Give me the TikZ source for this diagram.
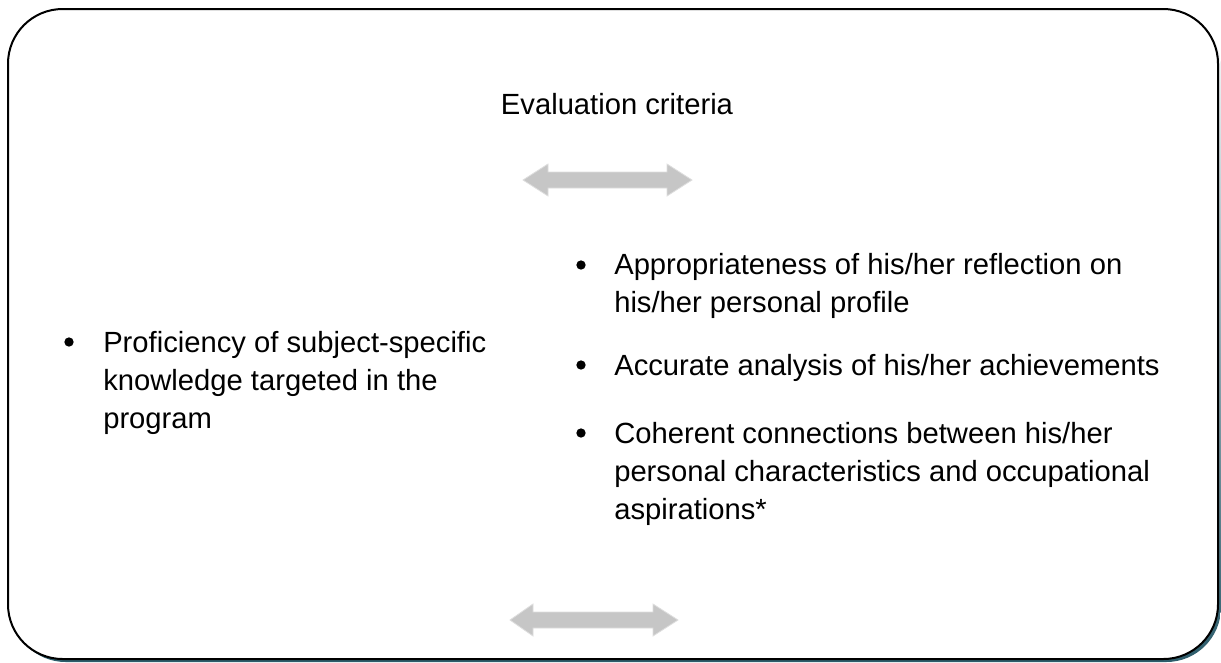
\documentclass[tikz,border=0pt]{standalone}
\usepackage{fontspec}
\setmainfont{Liberation Sans}
\usetikzlibrary{positioning}

\definecolor{shadowteal}{RGB}{44,92,107}
\definecolor{arrowgray}{RGB}{198,198,198}
\definecolor{arrowedge}{RGB}{222,222,222}

\tikzset{
  crit/.style={anchor=base west, align=left, inner sep=0pt, font=\fontsize{21.9}{28.5}\selectfont},
  dot/.style={circle, fill=black, inner sep=0pt, minimum size=7pt},
  twoway/.style={fill=arrowgray, draw=arrowedge, line width=0.6pt}
}

\begin{document}
\begin{tikzpicture}[x=0.75pt, y=-0.75pt]
\useasboundingbox (0,0) rectangle (1221,662);

% frame and its shadow
\shade[top color=white, middle color=white, bottom color=shadowteal, rounded corners=41pt] (11,12) rectangle (1221,662);
\filldraw[fill=white, draw=black, line width=1.5pt, rounded corners=41pt] (8,9) rectangle (1218,659);

\node[crit, anchor=base] (title) at (617,114) {Evaluation criteria};

% the two double arrows
\draw[twoway] (523,180) -- (548,164) -- (548,172) -- (667,172) -- (667,164) -- (692,180)
  -- (667,196) -- (667,188) -- (548,188) -- (548,196) -- cycle;
\draw[twoway] (510,620) -- (533,604) -- (533,612) -- (653,612) -- (653,604) -- (678,620)
  -- (653,636) -- (653,628) -- (533,628) -- (533,636) -- cycle;

% left column (base = last line)
\node[dot] (b1) at (69,342) {};
\node[crit] (prof) at (103,428) {Proficiency of subject-specific\\knowledge targeted in the\\program};

% right column
\node[dot] (b2) at (581,265) {};
\node[crit] (appr) at (614,312) {Appropriateness of his/her reflection on\\his/her personal profile};
\node[dot] (b3) at (581,365) {};
\node[crit] (accu) at (614,375) {Accurate analysis of his/her achievements};
\node[dot] (b4) at (581,433) {};
\node[crit] (cohe) at (614,519) {Coherent connections between his/her\\personal characteristics and occupational\\aspirations*};

\end{tikzpicture}
\end{document}
